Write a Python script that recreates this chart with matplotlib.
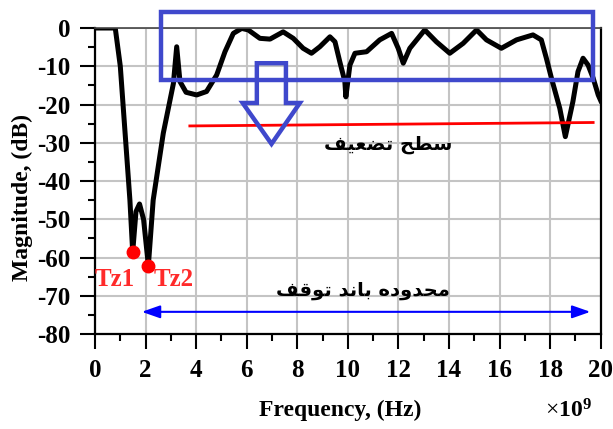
import numpy as np
import matplotlib.pyplot as plt
from matplotlib.patches import Rectangle, Polygon, FancyArrowPatch

plt.rcParams['axes.unicode_minus'] = False
plt.rcParams['mathtext.fontset'] = 'custom'
plt.rcParams['mathtext.rm'] = 'Liberation Serif'
plt.rcParams['mathtext.bf'] = 'Liberation Serif:bold'

# response (GHz, dB)
freq = [0, 0.8, 1.0, 1.19, 1.38, 1.49, 1.62, 1.76, 1.92, 2.11, 2.3, 2.7, 3.1, 3.23,
        3.36, 3.6, 4.02, 4.41, 4.81, 5.14, 5.47, 5.8, 6.06, 6.52, 6.92, 7.44,
        7.84, 8.23, 8.56, 8.89, 9.29, 9.49, 9.68, 9.88, 9.92, 10.08, 10.28,
        10.74, 11.26, 11.73, 11.99, 12.19, 12.45, 13.04, 13.5, 14.03, 14.56,
        15.09, 15.48, 16.07, 16.67, 17.32, 17.65, 17.85, 18.05, 18.38, 18.6,
        18.9, 19.1, 19.3, 19.5, 19.7, 19.9, 20.0]
mag = [0, 0, -10, -27.5, -45, -58.6, -48, -46, -50, -62.1, -45, -27.5, -14.5, -4.9,
       -14, -16.8, -17.5, -16.6, -12.3, -6.2, -1.4, -0.1, -0.5, -2.7, -2.9, -1.0,
       -2.7, -5.3, -6.6, -4.9, -2.3, -3.6, -8.8, -14, -18, -9.7, -6.6,
       -6.2, -3.1, -1.4, -5.3, -9.2, -5.3, -0.5, -3.6, -6.6, -4.0,
       -0.5, -3.1, -5.3, -3.1, -1.8, -3.1, -7.9, -13.1, -21, -28.4,
       -19.2, -11.4, -7.9, -9.7, -13.1, -17.5, -19]
tz_x = [1.49, 2.11]
tz_y = [-58.6, -62.1]
tz_names = ['Tz1', 'Tz2']

atten_x = [3.75, 19.7]
atten_y = [-25.6, -24.7]

# arabic text given in presentation forms, visual order
atten_text = '\uFED2\uFEF4\uFECC\uFEC0\uFE97 \uFEA2\uFEC4\uFEB3'
stop_text = ('\uFED2\uFED7\uFEEE\uFE97 \uFEAA\uFEE7\uFE8E\uFE91 '
             '\uFEE9\uFEA9\uFEED\uFEAA\uFEA4\uFEE3')

fig = plt.figure(figsize=(6.13, 4.29), dpi=100)
ax = fig.add_axes([0.155, 0.2214, 0.825, 0.7133])

ax.plot(freq, mag, 'k-', linewidth=3.6, solid_joinstyle='round')
ax.plot(atten_x, atten_y, color='red', linewidth=2)
ax.plot(tz_x, tz_y, 'o', color='red', markersize=9)
ax.text(0.79, -65.8, tz_names[0], color='#FF2A2A', fontsize=18, fontweight='bold',
        family='Liberation Serif', ha='center', va='center')
ax.text(3.1, -65.8, tz_names[1], color='#FF2A2A', fontsize=18, fontweight='bold',
        family='Liberation Serif', ha='center', va='center')

blue = '#3F48CC'
ax.add_patch(Rectangle((2.6, -13.6), 17.1, 17.8, fill=False, edgecolor=blue,
                       linewidth=3.2, clip_on=False, zorder=5))
arrow = [(6.4, -9.2), (7.55, -9.2), (7.55, -19.6), (8.1, -19.6),
         (6.98, -30.3), (5.84, -19.6), (6.4, -19.6)]
ax.add_patch(Polygon(arrow, closed=True, fill=False, edgecolor=blue,
                     linewidth=3.2, joinstyle='miter', zorder=5))

ax.add_patch(FancyArrowPatch((1.74, -74.2), (19.7, -74.2),
                             arrowstyle='<|-|>,head_length=1.0,head_width=0.35',
                             mutation_scale=11, color='blue', linewidth=1.5))

ax.text(11.6, -30.5, atten_text, fontsize=14, fontweight='bold',
        family='DejaVu Sans', ha='center', va='center')
ax.text(10.6, -68.6, stop_text, fontsize=14, fontweight='bold',
        family='DejaVu Sans', ha='center', va='center')

ax.set_xlim(0, 20)
ax.set_ylim(-80, 0)
ax.set_xticks(np.arange(0, 21, 2))
ax.set_xticks(np.arange(1, 20, 2), minor=True)
ax.set_yticks(np.arange(-80, 1, 10))
ax.set_yticks(np.arange(-75, 0, 10), minor=True)
ax.grid(True, which='major', color='#C4C4C4', linewidth=1.5)
ax.set_axisbelow(True)
ax.spines['top'].set_color('#444444')
ax.spines['top'].set_linewidth(1.2)
for s in ['left', 'bottom', 'right']:
    ax.spines[s].set_linewidth(1.6)
ax.tick_params(which='major', direction='out', length=11, width=1.5, pad=7)
ax.tick_params(which='minor', direction='out', length=5, width=1.5)
for lab in ax.get_xticklabels() + ax.get_yticklabels():
    lab.set_fontfamily('Liberation Serif')
    lab.set_fontweight('bold')
    lab.set_fontsize(18)

fig.text(0.555, 0.044, 'Frequency, (Hz)', fontsize=17, fontweight='bold',
         family='Liberation Serif', ha='center', va='center')
fig.text(0.036, 0.54, 'Magnitude, (dB)', fontsize=17, fontweight='bold',
         family='Liberation Serif', ha='center', va='center', rotation=90)
fig.text(0.927, 0.042, r'$\times\mathbf{10^9}$', fontsize=17,
         ha='center', va='center')

fig.savefig('out.png', dpi=100)
